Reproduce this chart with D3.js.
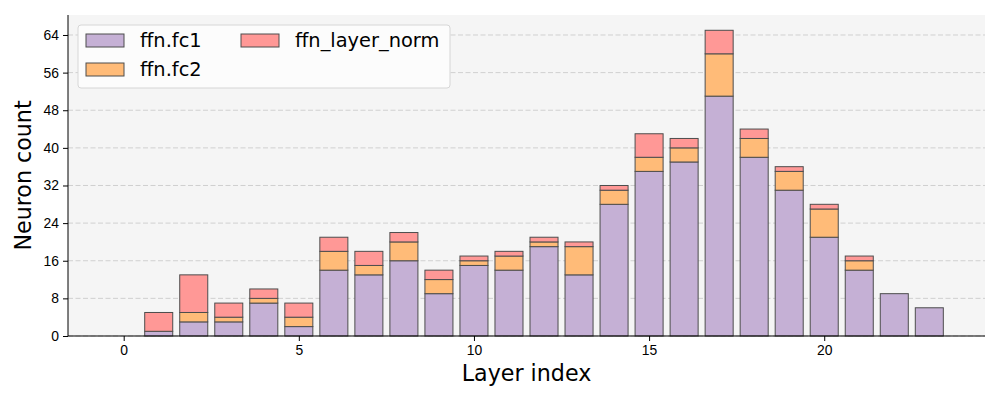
<!DOCTYPE html>
<html>
<head>
<meta charset="utf-8">
<script src="https://cdn.jsdelivr.net/npm/d3@7"></script>
<style>
  body { margin: 0; background: #fff; }
  svg { font-family: "DejaVu Sans", sans-serif; }
  .tick text { font-size: 13.9px; fill: #000; }
  .tick line { stroke: #000; }
  .domain { stroke: #000; }
</style>
</head>
<body>
<svg id="chart" width="1000" height="400"></svg>
<script>
// values per layer
const layers = d3.range(0, 24);
const fc1 = [0, 1, 3, 3, 7, 2, 14, 13, 16, 9, 15, 14, 19, 13, 28, 35, 37, 51, 38, 31, 21, 14, 9, 6];
const fc2 = [0, 0, 2, 1, 1, 2, 4, 2, 4, 3, 1, 3, 1, 6, 3, 3, 3, 9, 4, 4, 6, 2, 0, 0];
const layerNorm = [0, 4, 8, 3, 2, 3, 3, 3, 2, 2, 1, 1, 1, 1, 1, 5, 2, 5, 2, 1, 1, 1, 0, 0];

const seriesNames = ["ffn.fc1", "ffn.fc2", "ffn_layer_norm"];
const seriesColors = ["#c5b0d5", "#ffbb78", "#ff9896"];
const xTicks = [0, 5, 10, 15, 20];
const yTicks = [0, 8, 16, 24, 32, 40, 48, 56, 64];

const margin = { top: 15, right: 15, bottom: 64, left: 68 },
    width = 1000 - margin.left - margin.right,
    height = 400 - margin.top - margin.bottom;

const svg = d3.select("#chart")
    .append("g")
    .attr("transform", `translate(${margin.left},${margin.top})`);

const rows = layers.map((l, i) => ({ layer: l, "ffn.fc1": fc1[i], "ffn.fc2": fc2[i], "ffn_layer_norm": layerNorm[i] }));
const stacked = d3.stack().keys(seriesNames)(rows);

const barW = 0.8;
const xMin = -barW / 2, xMax = layers[layers.length - 1] + barW / 2;
const xPad = (xMax - xMin) * 0.05;
const xScale = d3.scaleLinear().domain([xMin - xPad, xMax + xPad]).range([0, width]);

const total = d3.max(rows, d => d["ffn.fc1"] + d["ffn.fc2"] + d["ffn_layer_norm"]);
const yScale = d3.scaleLinear().domain([0, total * 1.05]).range([height, 0]);

svg.append("rect")
    .attr("width", width)
    .attr("height", height)
    .attr("fill", "#f5f5f5");

svg.append("g")
    .selectAll("line")
    .data(yTicks)
    .enter().append("line")
    .attr("x1", 0)
    .attr("x2", width)
    .attr("y1", d => yScale(d))
    .attr("y2", d => yScale(d))
    .attr("stroke", "#cccccc")
    .attr("stroke-width", 0.9)
    .attr("stroke-dasharray", "5,2.5");

const groups = svg.selectAll(".series")
    .data(stacked)
    .enter().append("g")
    .attr("class", "series")
    .attr("fill", (d, i) => seriesColors[i]);

groups.selectAll("rect")
    .data(d => d.filter(p => p[1] - p[0] > 0))
    .enter().append("rect")
    .attr("x", d => xScale(d.data.layer - barW / 2))
    .attr("width", xScale(barW) - xScale(0))
    .attr("y", d => yScale(d[1]))
    .attr("height", d => yScale(d[0]) - yScale(d[1]))
    .attr("stroke", "#4d4d4d")
    .attr("stroke-width", 1);

svg.append("g")
    .attr("class", "x axis")
    .attr("transform", `translate(0,${height})`)
    .call(d3.axisBottom(xScale).tickValues(xTicks).tickSize(5).tickPadding(4).tickSizeOuter(0));

svg.append("g")
    .attr("class", "y axis")
    .call(d3.axisLeft(yScale).tickValues(yTicks).tickSize(5).tickPadding(4).tickSizeOuter(0));

svg.select(".x.axis .domain").attr("d", `M0,0H${width}`);
svg.select(".y.axis .domain").attr("d", `M0,0V${height}`);

svg.append("text")
    .attr("x", width / 2)
    .attr("y", height + 45)
    .attr("text-anchor", "middle")
    .attr("font-size", 22.2)
    .text("Layer index");

svg.append("text")
    .attr("transform", `translate(${-37},${height / 2}) rotate(-90)`)
    .attr("text-anchor", "middle")
    .attr("font-size", 22.2)
    .text("Neuron count");

// legend
const legend = svg.append("g").attr("transform", "translate(10,10)");
legend.append("rect")
    .attr("width", 372)
    .attr("height", 63)
    .attr("rx", 3)
    .attr("fill", "#fcfcfc")
    .attr("stroke", "#d6d6d6");

const legendPos = [[8, 9], [8, 38], [163, 9]];
const items = legend.selectAll(".item")
    .data(seriesNames)
    .enter().append("g")
    .attr("class", "item")
    .attr("transform", (d, i) => `translate(${legendPos[i][0]},${legendPos[i][1]})`);

items.append("rect")
    .attr("width", 38)
    .attr("height", 13)
    .attr("fill", (d, i) => seriesColors[i])
    .attr("stroke", "#4d4d4d");

items.append("text")
    .attr("x", 54)
    .attr("y", 13)
    .attr("font-size", 19.4)
    .text(d => d);
</script>
</body>
</html>
